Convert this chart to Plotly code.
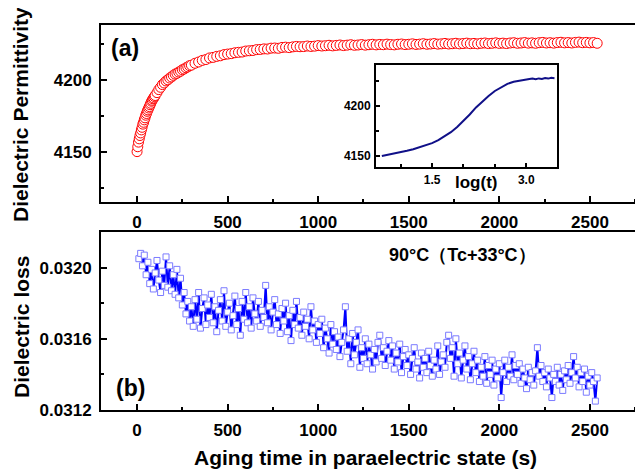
import plotly.graph_objects as go

# --- data ---
# (a) dielectric permittivity vs aging time
t_perm = list(range(0, 101, 4)) + list(range(110, 301, 10)) + list(range(320, 2541, 20))
perm = [
    4150.0, 4153.4, 4156.6, 4158.9, 4161.2, 4163.0, 4165.1, 4166.9, 4169.1, 4170.4,
    4172.1, 4173.5, 4175.3, 4176.5, 4178.0, 4179.0, 4180.3, 4181.3, 4182.6, 4183.6,
    4185.0, 4185.7, 4186.7, 4187.3, 4188.3, 4189.0,
    4191.0, 4193.1, 4194.7, 4196.6, 4197.7, 4199.1, 4199.9, 4201.1, 4201.9, 4203.0,
    4203.9, 4204.4, 4205.3, 4205.9, 4206.9, 4207.4, 4208.3, 4208.9, 4209.7, 4210.1,
    4211.4, 4212.3, 4213.4, 4214.0, 4215.1, 4215.5, 4216.2, 4216.6, 4217.4, 4217.8,
    4218.1, 4218.7, 4219.0, 4219.2, 4219.9, 4220.1, 4220.3, 4220.9, 4221.0, 4221.4,
    4221.3, 4221.9, 4222.0, 4221.8, 4222.4, 4222.6, 4222.3, 4222.8, 4223.1, 4222.9,
    4223.0, 4223.4, 4223.1, 4223.3, 4223.7, 4223.4, 4223.6, 4223.9, 4223.5, 4223.8,
    4224.1, 4223.7, 4224.0, 4224.3, 4223.9, 4224.1, 4224.4, 4224.0, 4224.3, 4224.6,
    4224.2, 4224.5, 4224.3, 4224.7, 4224.4, 4224.2, 4224.6, 4224.8, 4224.4, 4224.6,
    4224.9, 4224.5, 4224.7, 4225.0, 4224.6, 4224.8, 4225.1, 4224.7, 4224.9, 4225.2,
    4224.8, 4225.0, 4225.3, 4224.9, 4225.1, 4225.4, 4225.0, 4225.2, 4224.9, 4225.3,
    4225.5, 4225.1, 4225.3, 4225.6, 4225.2, 4225.4, 4225.1, 4225.5, 4225.7, 4225.3,
    4225.5, 4225.8, 4225.4, 4225.6, 4225.3, 4225.7, 4225.9, 4225.5, 4225.7, 4225.4,
    4225.8, 4226.0, 4225.6, 4225.8, 4225.5, 4225.9, 4226.1, 4225.7, 4225.9, 4225.6,
    4225.8, 4225.3,
]

# inset: permittivity vs log(t)
log_t = [0.70, 0.80, 0.90, 1.00, 1.10, 1.20, 1.30, 1.40, 1.50, 1.60, 1.70, 1.80,
         1.90, 2.00, 2.10, 2.20, 2.30, 2.40, 2.50, 2.60, 2.70, 2.80, 2.90, 3.00,
         3.05, 3.10, 3.15, 3.20, 3.25, 3.30, 3.35, 3.40, 3.45]
perm_log = [4150.0, 4151.2, 4152.4, 4153.7, 4155.2, 4156.8, 4158.6, 4160.6, 4162.9,
            4165.8, 4169.5, 4173.8, 4179.0, 4185.0, 4191.5, 4198.6, 4204.5, 4210.0,
            4215.0, 4219.0, 4222.2, 4224.3, 4225.6, 4226.5, 4226.9, 4227.4, 4226.8,
            4227.6, 4227.1, 4228.0, 4227.4, 4228.2, 4227.8]

# (b) dielectric loss vs aging time
t_loss = list(range(10, 2541, 10))
loss = [
    0.03205, 0.03208, 0.03201, 0.03207, 0.03196, 0.03203, 0.03191, 0.03199, 0.03188, 0.03197,
    0.03204, 0.03193, 0.03186, 0.03198, 0.03190, 0.03206, 0.03189, 0.03201, 0.03187, 0.03196,
    0.03185, 0.03199, 0.03183, 0.03194, 0.03179, 0.03186, 0.03174, 0.03181, 0.03170, 0.03178,
    0.03167, 0.03182, 0.03171, 0.03186, 0.03166, 0.03177, 0.03183, 0.03168, 0.03179, 0.03172,
    0.03185, 0.03169, 0.03178, 0.03164, 0.03176, 0.03182, 0.03170, 0.03187, 0.03167, 0.03175,
    0.03180, 0.03165, 0.03173, 0.03184, 0.03168, 0.03177, 0.03162, 0.03181, 0.03171, 0.03186,
    0.03169, 0.03178, 0.03166, 0.03183, 0.03174, 0.03170, 0.03181, 0.03167, 0.03176, 0.03172,
    0.03190, 0.03169, 0.03178, 0.03165, 0.03175, 0.03182, 0.03168, 0.03174, 0.03163, 0.03177,
    0.03170, 0.03180, 0.03164, 0.03173, 0.03159, 0.03176, 0.03168, 0.03181, 0.03166, 0.03172,
    0.03162, 0.03175, 0.03167, 0.03171, 0.03160, 0.03178, 0.03165, 0.03170, 0.03158, 0.03168,
    0.03163, 0.03171, 0.03155, 0.03166, 0.03160, 0.03152, 0.03168, 0.03157, 0.03164, 0.03154,
    0.03161, 0.03150, 0.03158, 0.03165, 0.03178, 0.03153, 0.03160, 0.03146, 0.03163, 0.03151,
    0.03158, 0.03165, 0.03144, 0.03155, 0.03149, 0.03160, 0.03146, 0.03157, 0.03151, 0.03143,
    0.03154, 0.03147, 0.03158, 0.03162, 0.03149, 0.03155, 0.03145, 0.03153, 0.03159, 0.03148,
    0.03156, 0.03143, 0.03152, 0.03147, 0.03157, 0.03141, 0.03150, 0.03154, 0.03145, 0.03151,
    0.03140, 0.03149, 0.03155, 0.03143, 0.03147, 0.03138, 0.03152, 0.03144, 0.03149, 0.03141,
    0.03153, 0.03145, 0.03139, 0.03148, 0.03143, 0.03156, 0.03140, 0.03147, 0.03151, 0.03144,
    0.03158, 0.03162, 0.03149, 0.03155, 0.03139, 0.03160, 0.03146, 0.03152, 0.03138, 0.03148,
    0.03156, 0.03143, 0.03150, 0.03137, 0.03146, 0.03153, 0.03141, 0.03148, 0.03136, 0.03144,
    0.03139, 0.03150, 0.03135, 0.03145, 0.03140, 0.03148, 0.03134, 0.03143, 0.03138, 0.03146,
    0.03127, 0.03141, 0.03148, 0.03136, 0.03144, 0.03139, 0.03151, 0.03137, 0.03145, 0.03140,
    0.03146, 0.03135, 0.03143, 0.03138, 0.03132, 0.03144, 0.03137, 0.03141, 0.03134, 0.03142,
    0.03155, 0.03139, 0.03145, 0.03136, 0.03141, 0.03133, 0.03143, 0.03138, 0.03127, 0.03140,
    0.03136, 0.03144, 0.03134, 0.03140, 0.03131, 0.03142, 0.03137, 0.03145, 0.03135, 0.03141,
    0.03150, 0.03138, 0.03144, 0.03133, 0.03141, 0.03136, 0.03143, 0.03130, 0.03139, 0.03134,
    0.03141, 0.03136, 0.03125, 0.03138,
]

assert len(t_perm) == len(perm)
assert len(t_loss) == len(loss)
assert len(log_t) == len(perm_log)

FONT = 'Liberation Sans, Arial, sans-serif'
OFF = 8  # page body margin the figure sits inside
W, H = 643 - OFF, 472 - OFF
L, R, T, B = 101 - OFF, 0, 25 - OFF, 62


def px(x):
    # page pixel -> paper fraction
    return (x - OFF - L) / (W - L - R)


def py(y):
    return (H - B - (y - OFF)) / (H - T - B)


fig = go.Figure()

fig.add_trace(go.Scatter(
    x=t_perm, y=perm, mode='markers',
    marker=dict(symbol='circle', size=10, color='white',
                line=dict(color='#ff0000', width=1)),
    xaxis='x', yaxis='y', showlegend=False
))

fig.add_trace(go.Scatter(
    x=t_loss, y=loss, mode='lines+markers',
    line=dict(color='#0000ff', width=2),
    marker=dict(symbol='square', size=6, color='white',
                line=dict(color='#7b7bff', width=1)),
    xaxis='x2', yaxis='y2', showlegend=False
))

fig.add_trace(go.Scatter(
    x=log_t, y=perm_log, mode='lines',
    line=dict(color='#101088', width=2),
    xaxis='x3', yaxis='y3', showlegend=False
))

tickfont = dict(family=FONT, size=17, color='black', weight='bold')
small_tickfont = dict(family=FONT, size=12, color='black', weight='bold')

xcommon = dict(range=[-199, 2793], tickvals=[0, 500, 1000, 1500, 2000, 2500],
               ticks='inside', ticklen=6, tickwidth=2, tickcolor='black',
               minor=dict(dtick=250, tick0=0, ticks='inside', ticklen=3,
                          tickwidth=2, tickcolor='black'),
               showline=True, linewidth=2, linecolor='black', mirror=True,
               showgrid=False, zeroline=False, tickfont=tickfont,
               ticklabelstandoff=4)

ycommon = dict(ticks='inside', ticklen=6, tickwidth=2, tickcolor='black',
               showline=True, linewidth=2, linecolor='black',
               showgrid=False, zeroline=False, tickfont=tickfont,
               ticklabelstandoff=4)

fig.update_layout(
    width=W, height=H,
    margin=dict(l=L, r=R, t=T, b=B, pad=0),
    paper_bgcolor='white', plot_bgcolor='white',
    font=dict(family=FONT, color='black'),
    xaxis=dict(domain=[0, 1], anchor='y', **xcommon),
    yaxis=dict(domain=[py(202), 1], anchor='x', range=[4115, 4238],
               tickvals=[4150, 4200],
               minor=dict(dtick=25, tick0=0, ticks='inside', ticklen=3,
                          tickwidth=2, tickcolor='black'),
               **ycommon),
    xaxis2=dict(domain=[0, 1], anchor='y2', **xcommon),
    yaxis2=dict(domain=[0, py(232)], anchor='x2', range=[0.0312, 0.0322],
                tickvals=[0.0312, 0.0316, 0.0320], tickformat='.4f',
                minor=dict(dtick=0.0002, tick0=0.0312, ticks='inside', ticklen=3,
                           tickwidth=2, tickcolor='black'),
                **ycommon),
    xaxis3=dict(domain=[px(376), px(557)], anchor='y3', range=[0.607, 3.49],
                tickvals=[1.5, 3.0], ticktext=['1.5', '3.0'],
                ticks='inside', ticklen=4, tickwidth=1.5, tickcolor='black',
                minor=dict(dtick=0.5, tick0=0, ticks='inside', ticklen=3,
                           tickwidth=1.5, tickcolor='black'),
                showline=True, linewidth=2, linecolor='black', mirror=True,
                showgrid=False, zeroline=False, tickfont=small_tickfont,
                ticklabelstandoff=1),
    yaxis3=dict(domain=[py(167), py(65)], anchor='x3', range=[4139, 4241],
                tickvals=[4150, 4200],
                ticks='inside', ticklen=4, tickwidth=1.5, tickcolor='black',
                minor=dict(dtick=25, tick0=0, ticks='inside', ticklen=3,
                           tickwidth=1.5, tickcolor='black'),
                showline=True, linewidth=2, linecolor='black', mirror=True,
                showgrid=False, zeroline=False, tickfont=small_tickfont,
                ticklabelstandoff=1),
)


def label(text, x, y, size, angle=0):
    fig.add_annotation(text=text, x=px(x), y=py(y), xref='paper', yref='paper',
                       showarrow=False, textangle=angle, xanchor='center', yanchor='middle',
                       font=dict(family=FONT, size=size, color='black', weight='bold'))


label('Dielectric Permittivity', 21, 115, 21, -90)
label('Dielectric loss', 21, 327, 21, -90)
label('Aging time in paraelectric state (s)', 365, 457, 21)
label('(a)', 125, 48, 23)
label('(b)', 130, 388, 23)
label('90°C（Tc+33°C）', 463, 255, 18)
label('log(t)', 476, 182, 17)

fig.write_html('out.html')
